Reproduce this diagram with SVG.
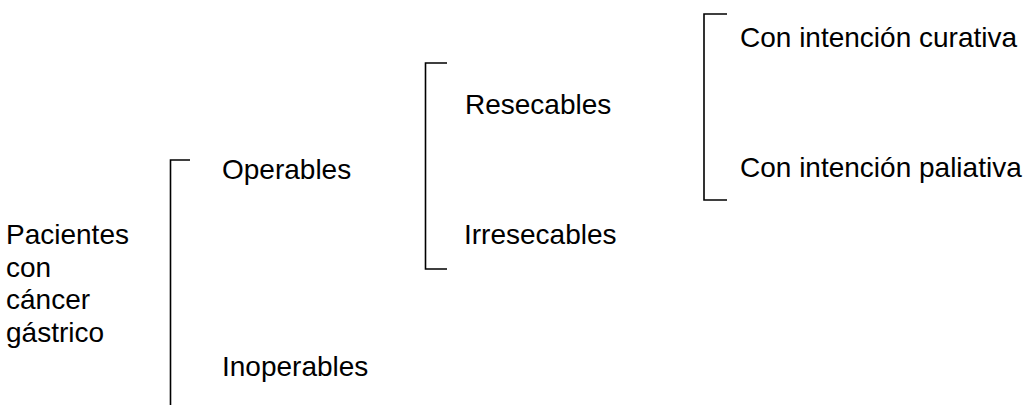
<svg xmlns="http://www.w3.org/2000/svg" width="1024" height="405" viewBox="0 0 1024 405">
<style>
text{font-family:"Liberation Sans",Arial,sans-serif;font-size:28px;fill:#000}
.br{fill:none;stroke:#000;stroke-width:1.6}
</style>
<rect width="1024" height="405" fill="#fff"/>
<g id="connectors">
<path class="br" d="M190,160 H170.5 V405"/>
<path class="br" d="M447,63 H425.5 V269 H447"/>
<path class="br" d="M727,14 H704 V200 H727"/>
</g>
<g id="n-pacientes"><text x="6" y="244">Pacientes<tspan x="6" dy="32.5">con</tspan><tspan x="6" dy="32.5">cáncer</tspan><tspan x="6" dy="32.5">gástrico</tspan></text></g>
<g id="n-operables"><text x="222" y="179">Operables</text></g>
<g id="n-inoperables"><text x="222" y="376">Inoperables</text></g>
<g id="n-resecables"><text x="465" y="114">Resecables</text></g>
<g id="n-irresecables"><text x="464" y="244">Irresecables</text></g>
<g id="n-curativa"><text x="740" y="47">Con intención curativa</text></g>
<g id="n-paliativa"><text x="740" y="177">Con intención paliativa</text></g>
</svg>
